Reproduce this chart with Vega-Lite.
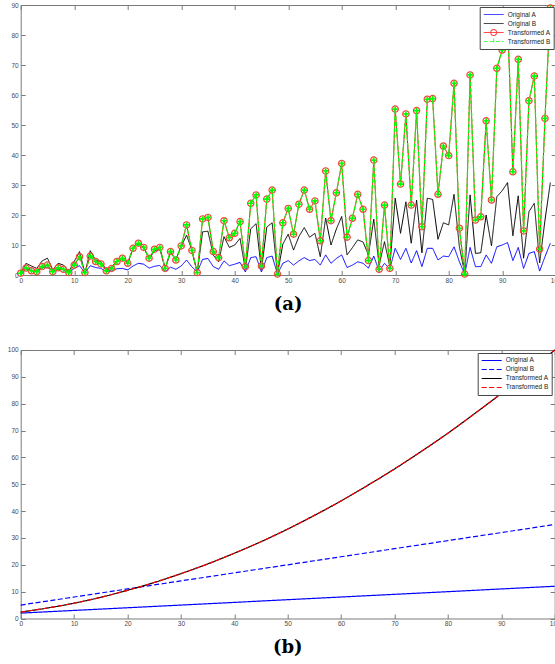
{
  "$schema": "https://vega.github.io/schema/vega-lite/v6.json",
  "background": "white",
  "padding": {"left": 6.7, "top": 1, "right": 0, "bottom": 0},
  "spacing": 32,
  "resolve": {"scale": {"x": "independent", "y": "independent", "color": "independent", "strokeDash": "independent", "shape": "independent"}, "legend": {"color": "independent", "strokeDash": "independent", "shape": "independent"}},
  "config": {
    "view": {"stroke": "#7a7a7a", "strokeWidth": 1},
    "axis": {"grid": false, "domain": false, "labelFont": "Liberation Sans", "labelFontSize": 6.5, "labelColor": "#4a4a4a", "tickColor": "#7a7a7a", "tickWidth": 1, "labelFlush": false, "labelOverlap": false},
    "legend": {"orient": "top-right", "title": null, "symbolSize": 400, "clipHeight": 9, "labelOffset": 3, "padding": 3, "rowPadding": 0, "strokeColor": "#444444", "fillColor": "white", "labelFont": "Liberation Sans", "labelFontSize": 6.5, "labelColor": "#222222", "symbolStrokeWidth": 1.1, "cornerRadius": 0}
  },
  "vconcat": [
    {
      "width": 535,
      "height": 270,
      "title": {"text": "(a)", "orient": "bottom", "anchor": "middle", "font": "DejaVu Serif", "fontWeight": "bold", "fontSize": 18, "color": "black", "offset": 12},
      "data": {"values": [
        {"x":0,"a":0.3,"b":0.5,"t":0.6},{"x":1,"a":1.9,"b":3.9,"t":2.3},{"x":2,"a":1.6,"b":3.0,"t":1.4},{"x":3,"a":1.3,"b":2.2,"t":1.1},{"x":4,"a":2.4,"b":4.7,"t":2.8},
        {"x":5,"a":2.6,"b":5.6,"t":3.3},{"x":6,"a":1.3,"b":1.7,"t":1.1},{"x":7,"a":2.0,"b":3.9,"t":2.4},{"x":8,"a":1.8,"b":3.3,"t":1.9},{"x":9,"a":0.8,"b":1.1,"t":0.8},
        {"x":10,"a":2.2,"b":4.5,"t":3.3},{"x":11,"a":3.1,"b":7.8,"t":6.1},{"x":12,"a":0.7,"b":0.6,"t":0.8},{"x":13,"a":3.1,"b":8.1,"t":6.3},{"x":14,"a":2.5,"b":5.0,"t":4.5},
        {"x":15,"a":2.2,"b":4.5,"t":3.7},{"x":16,"a":1.1,"b":1.7,"t":1.4},{"x":17,"a":1.5,"b":2.8,"t":2.2},{"x":18,"a":2.1,"b":4.5,"t":4.5},{"x":19,"a":2.2,"b":5.6,"t":5.6},
        {"x":20,"a":1.7,"b":4.0,"t":3.9},{"x":21,"a":3.0,"b":8.9,"t":8.9},{"x":22,"a":3.9,"b":10.4,"t":10.6},{"x":23,"a":3.6,"b":9.2,"t":9.2},{"x":24,"a":2.3,"b":5.4,"t":5.6},
        {"x":25,"a":2.9,"b":8.0,"t":8.6},{"x":26,"a":3.2,"b":8.8,"t":9.2},{"x":27,"a":1.1,"b":2.2,"t":2.2},{"x":28,"a":2.6,"b":7.5,"t":7.8},{"x":29,"a":1.9,"b":5.2,"t":5.0},
        {"x":30,"a":3.0,"b":9.5,"t":9.7},{"x":31,"a":5.0,"b":13.3,"t":16.7},{"x":32,"a":2.7,"b":8.3,"t":8.2},{"x":33,"a":1.0,"b":0.7,"t":0.8},{"x":34,"a":5.2,"b":14.4,"t":18.7},
        {"x":35,"a":5.5,"b":14.6,"t":19.2},{"x":36,"a":2.8,"b":6.6,"t":7.8},{"x":37,"a":1.9,"b":4.4,"t":5.8},{"x":38,"a":4.7,"b":12.8,"t":18.1},{"x":39,"a":3.1,"b":9.2,"t":12.4},
        {"x":40,"a":3.6,"b":10.0,"t":13.9},{"x":41,"a":4.2,"b":12.2,"t":17.8},{"x":42,"a":1.0,"b":1.7,"t":2.8},{"x":43,"a":5.8,"b":15.4,"t":23.9},{"x":44,"a":6.1,"b":17.1,"t":26.7},
        {"x":45,"a":1.0,"b":1.7,"t":3.0},{"x":46,"a":5.8,"b":16.0,"t":25.3},{"x":47,"a":6.3,"b":17.4,"t":28.3},{"x":48,"a":0.3,"b":0.3,"t":0.3},{"x":49,"a":3.9,"b":10.3,"t":17.4},
        {"x":50,"a":4.8,"b":13.6,"t":22.2},{"x":51,"a":3.3,"b":8.3,"t":13.6},{"x":52,"a":4.7,"b":12.8,"t":23.6},{"x":53,"a":5.8,"b":15.8,"t":28.3},{"x":54,"a":4.8,"b":12.6,"t":21.9},
        {"x":55,"a":5.2,"b":13.9,"t":24.7},{"x":56,"a":3.3,"b":6.1,"t":11.4},{"x":57,"a":6.7,"b":19.0,"t":34.7},{"x":58,"a":3.9,"b":10.0,"t":18.1},{"x":59,"a":5.5,"b":15.3,"t":27.4},
        {"x":60,"a":6.7,"b":19.5,"t":37.2},{"x":61,"a":2.5,"b":6.7,"t":12.6},{"x":62,"a":3.3,"b":9.1,"t":18.9},{"x":63,"a":4.4,"b":11.7,"t":26.9},{"x":64,"a":3.9,"b":11.0,"t":21.9},
        {"x":65,"a":2.3,"b":6.7,"t":4.8},{"x":66,"a":6.3,"b":18.6,"t":38.3},{"x":67,"a":1.3,"b":3.3,"t":1.9},{"x":68,"a":3.9,"b":11.1,"t":23.3},{"x":69,"a":2.0,"b":2.8,"t":2.2},
        {"x":70,"a":8.9,"b":25.6,"t":55.3},{"x":71,"a":5.2,"b":13.9,"t":30.3},{"x":72,"a":8.9,"b":24.4,"t":53.7},{"x":73,"a":4.0,"b":10.6,"t":23.3},{"x":74,"a":8.1,"b":25.0,"t":54.8},
        {"x":75,"a":2.8,"b":7.4,"t":16.1},{"x":76,"a":8.9,"b":25.6,"t":58.6},{"x":77,"a":8.9,"b":25.2,"t":58.8},{"x":78,"a":5.0,"b":11.9,"t":26.9},{"x":79,"a":6.3,"b":17.4,"t":43.0},
        {"x":80,"a":6.1,"b":16.7,"t":39.8},{"x":81,"a":9.4,"b":26.9,"t":63.9},{"x":82,"a":4.4,"b":9.4,"t":15.6},{"x":83,"a":0.3,"b":0.6,"t":0.3},{"x":84,"a":9.2,"b":26.7,"t":66.7},
        {"x":85,"a":2.8,"b":7.2,"t":18.3},{"x":86,"a":2.8,"b":7.4,"t":19.4},{"x":87,"a":6.7,"b":20.0,"t":51.4},{"x":88,"a":3.9,"b":9.7,"t":25.0},{"x":89,"a":9.4,"b":26.1,"t":68.9},
        {"x":90,"a":10.0,"b":28.1,"t":75.0},{"x":91,"a":10.8,"b":30.8,"t":86.0},{"x":92,"a":4.8,"b":13.1,"t":34.4},{"x":93,"a":9.2,"b":26.4,"t":71.9},{"x":94,"a":2.2,"b":5.6,"t":14.7},
        {"x":95,"a":7.2,"b":21.1,"t":58.1},{"x":96,"a":7.8,"b":23.9,"t":66.3},{"x":97,"a":1.3,"b":4.0,"t":8.6},{"x":98,"a":6.1,"b":18.3,"t":52.2},{"x":99,"a":10.6,"b":30.8,"t":89.0}
      ]},
      "resolve": {"axis": {"x": "independent", "y": "independent"}},
      "layer": [
        {
          "mark": {"type": "line", "strokeWidth": 1},
          "encoding": {
            "x": {"field": "x", "type": "quantitative", "title": null, "scale": {"domain": [0, 100], "nice": false}, "axis": {"orient": "bottom", "ticks": false, "labelPadding": 2, "values": [0,10,20,30,40,50,60,70,80,90,100]}},
            "y": {"field": "a", "type": "quantitative", "title": null, "scale": {"domain": [0, 90], "nice": false}, "axis": {"orient": "left", "ticks": false, "labelPadding": 2.5, "values": [0,10,20,30,40,50,60,70,80,90]}},
            "color": {"datum": "Original A", "scale": {"domain": ["Original A", "Original B", "Transformed A", "Transformed B"], "range": ["#0000ff", "#000000", "#ff0000", "#00ff00"]}, "legend": {"offset": 2}},
            "strokeDash": {"datum": "Original A", "scale": {"domain": ["Original A", "Original B", "Transformed A", "Transformed B"], "range": [[1, 0], [1, 0], [1, 0], [4, 2]]}, "legend": {"offset": 2}}
          }
        },
        {
          "mark": {"type": "line", "strokeWidth": 1},
          "encoding": {
            "x": {"field": "x", "type": "quantitative", "title": null, "scale": {"domain": [0, 100], "nice": false}, "axis": {"orient": "bottom", "labels": false, "tickSize": -4.5, "values": [0,10,20,30,40,50,60,70,80,90,100]}},
            "y": {"field": "b", "type": "quantitative", "title": null, "scale": {"domain": [0, 90], "nice": false}, "axis": {"orient": "left", "labels": false, "tickSize": -4.5, "values": [0,10,20,30,40,50,60,70,80,90]}},
            "color": {"datum": "Original B"},
            "strokeDash": {"datum": "Original B"}
          }
        },
        {
          "mark": {"type": "line", "strokeWidth": 1},
          "encoding": {
            "x": {"field": "x", "type": "quantitative", "title": null, "scale": {"domain": [0, 100], "nice": false}, "axis": {"orient": "top", "labels": false, "tickSize": -4.5, "values": [0,10,20,30,40,50,60,70,80,90,100]}},
            "y": {"field": "t", "type": "quantitative", "title": null, "scale": {"domain": [0, 90], "nice": false}, "axis": {"orient": "right", "labels": false, "tickSize": -4.5, "values": [0,10,20,30,40,50,60,70,80,90]}},
            "color": {"datum": "Transformed A"},
            "strokeDash": {"datum": "Transformed A"}
          }
        },
        {
          "mark": {"type": "point", "shape": "circle", "filled": false, "size": 40, "strokeWidth": 1.2, "color": "#ff3b3b", "opacity": 1},
          "encoding": {
            "x": {"field": "x", "type": "quantitative", "axis": null},
            "y": {"field": "t", "type": "quantitative", "axis": null}
          }
        },
        {
          "mark": {"type": "line", "strokeWidth": 1.3},
          "encoding": {
            "x": {"field": "x", "type": "quantitative", "axis": null},
            "y": {"field": "t", "type": "quantitative", "axis": null},
            "color": {"datum": "Transformed B"},
            "strokeDash": {"datum": "Transformed B"}
          }
        },
        {
          "mark": {"type": "point", "shape": "M-1,0H1M0,-1V1", "filled": false, "size": 30, "strokeWidth": 1.6, "color": "#00ff00", "opacity": 1},
          "encoding": {
            "x": {"field": "x", "type": "quantitative", "axis": null},
            "y": {"field": "t", "type": "quantitative", "axis": null}
          }
        },
        {
          "transform": [{"filter": "datum.x < 0"}],
          "mark": {"type": "point", "filled": false, "strokeWidth": 1.1},
          "encoding": {
            "x": {"field": "x", "type": "quantitative", "axis": null},
            "y": {"field": "t", "type": "quantitative", "axis": null},
            "color": {"datum": "Original A"},
            "shape": {"datum": "Original A", "scale": {"domain": ["Original A", "Original B", "Transformed A", "Transformed B"], "range": ["stroke", "stroke", "M-1,0H1M0.3,0A0.3,0.3,0,1,1,-0.3,0A0.3,0.3,0,1,1,0.3,0", "M-1,0H1M0,-0.3V0.3"]}, "legend": {"offset": 2}}
          }
        }
      ]
    },
    {
      "width": 534,
      "height": 268.5,
      "title": {"text": "(b)", "orient": "bottom", "anchor": "middle", "font": "DejaVu Serif", "fontWeight": "bold", "fontSize": 18, "color": "black", "offset": 12},
      "data": {"values": [
        {"x":0,"a":2.0,"b":5.0,"t":2.4},{"x":5,"a":2.5,"b":6.5,"t":3.9},{"x":10,"a":3.0,"b":8.0,"t":5.7},{"x":15,"a":3.5,"b":9.5,"t":7.9},
        {"x":20,"a":4.0,"b":11.0,"t":10.5},{"x":25,"a":4.5,"b":12.5,"t":13.4},{"x":30,"a":5.0,"b":14.0,"t":16.7},{"x":35,"a":5.5,"b":15.5,"t":20.3},
        {"x":40,"a":6.0,"b":17.0,"t":24.3},{"x":45,"a":6.5,"b":18.5,"t":28.6},{"x":50,"a":7.0,"b":20.0,"t":33.3},{"x":55,"a":7.5,"b":21.5,"t":38.4},
        {"x":60,"a":8.0,"b":23.0,"t":43.8},{"x":65,"a":8.5,"b":24.5,"t":49.6},{"x":70,"a":9.0,"b":26.0,"t":55.7},{"x":75,"a":9.5,"b":27.5,"t":62.2},
        {"x":80,"a":10.0,"b":29.0,"t":69.0},{"x":85,"a":10.5,"b":30.5,"t":76.3},{"x":90,"a":11.0,"b":32.0,"t":83.8},{"x":95,"a":11.5,"b":33.5,"t":91.7},
        {"x":100,"a":12.0,"b":35.0,"t":100.0}
      ]},
      "resolve": {"axis": {"x": "independent", "y": "independent"}},
      "layer": [
        {
          "mark": {"type": "line", "strokeWidth": 1.2, "interpolate": "monotone"},
          "encoding": {
            "x": {"field": "x", "type": "quantitative", "title": null, "scale": {"domain": [0, 100], "nice": false}, "axis": {"orient": "bottom", "ticks": false, "labelPadding": 2, "values": [0,10,20,30,40,50,60,70,80,90,100]}},
            "y": {"field": "a", "type": "quantitative", "title": null, "scale": {"domain": [0, 100], "nice": false}, "axis": {"orient": "left", "ticks": false, "labelPadding": 2.5, "values": [0,10,20,30,40,50,60,70,80,90,100]}},
            "color": {"datum": "Original A", "scale": {"domain": ["Original A", "Original B", "Transformed A", "Transformed B"], "range": ["#0000ff", "#0000ff", "#000000", "#ff0000"]}, "legend": {"offset": 3}},
            "strokeDash": {"datum": "Original A", "scale": {"domain": ["Original A", "Original B", "Transformed A", "Transformed B"], "range": [[1, 0], [5, 2.5], [1, 0], [5, 2.5]]}, "legend": {"offset": 3}}
          }
        },
        {
          "mark": {"type": "line", "strokeWidth": 1.2, "interpolate": "monotone"},
          "encoding": {
            "x": {"field": "x", "type": "quantitative", "title": null, "scale": {"domain": [0, 100], "nice": false}, "axis": {"orient": "bottom", "labels": false, "tickSize": -4.5, "values": [0,10,20,30,40,50,60,70,80,90,100]}},
            "y": {"field": "b", "type": "quantitative", "title": null, "scale": {"domain": [0, 100], "nice": false}, "axis": {"orient": "left", "labels": false, "tickSize": -4.5, "values": [0,10,20,30,40,50,60,70,80,90,100]}},
            "color": {"datum": "Original B"},
            "strokeDash": {"datum": "Original B"}
          }
        },
        {
          "mark": {"type": "line", "strokeWidth": 1.2, "interpolate": "monotone"},
          "encoding": {
            "x": {"field": "x", "type": "quantitative", "title": null, "scale": {"domain": [0, 100], "nice": false}, "axis": {"orient": "top", "labels": false, "tickSize": -4.5, "values": [0,10,20,30,40,50,60,70,80,90,100]}},
            "y": {"field": "t", "type": "quantitative", "title": null, "scale": {"domain": [0, 100], "nice": false}, "axis": {"orient": "right", "labels": false, "tickSize": -4.5, "values": [0,10,20,30,40,50,60,70,80,90,100]}},
            "color": {"datum": "Transformed A"},
            "strokeDash": {"datum": "Transformed A"}
          }
        },
        {
          "mark": {"type": "line", "strokeWidth": 1.2, "interpolate": "monotone"},
          "encoding": {
            "x": {"field": "x", "type": "quantitative", "axis": null},
            "y": {"field": "t", "type": "quantitative", "axis": null},
            "color": {"datum": "Transformed B"},
            "strokeDash": {"datum": "Transformed B"}
          }
        }
      ]
    }
  ]
}
